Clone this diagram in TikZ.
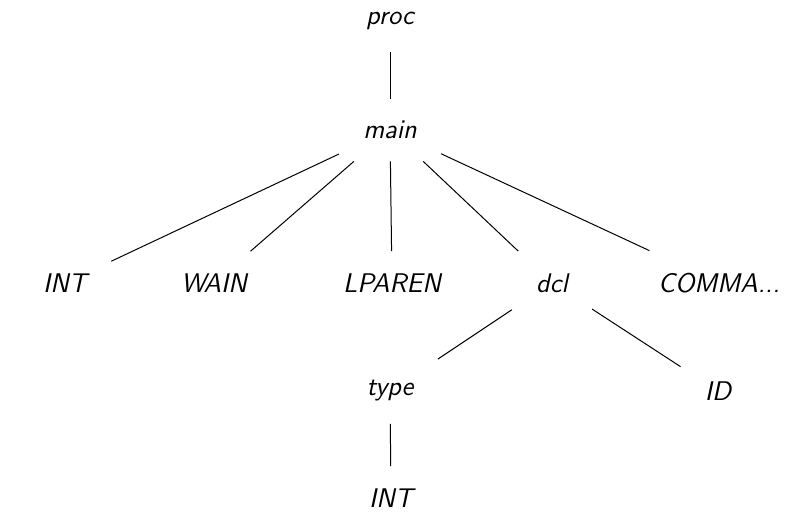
\documentclass[tikz,border=0pt]{standalone}
\usepackage{tikz}
\tikzset{
  treenode/.style={
    font=\fontsize{13.5}{16}\selectfont\sffamily\itshape,
    inner xsep=12pt,
    inner ysep=11pt},
  branch/.style={draw, line width=0.5pt},
}
\begin{document}
\begin{tikzpicture}[x=0.5pt, y=-0.5pt]
     \useasboundingbox (0,0) rectangle (811,515);
     \node[treenode] (Proc)    at (390,21)  {proc};
     \node[treenode] (Main)    at (390,130) {main};
     \node[treenode] (Int)     at (65,283)  {INT};
     \node[treenode] (Wain)    at (214,283) {WAIN};
     \node[treenode] (Lparen)  at (392,283) {LPAREN};
     \node[treenode] (Dcl)     at (552,283) {dcl};
     \node[treenode] (Comma)   at (719,283) {COMMA...};
     \node[treenode] (Type)    at (390,391) {type};
     \node[treenode] (Id)      at (718,391) {ID};
     \node[treenode] (TypeInt) at (391,498) {INT};
     \draw[branch] (Proc) -- (Main);
     \draw[branch] (Main) -- (Int);
     \draw[branch] (Main) -- (Wain);
     \draw[branch] (Main) -- (Lparen);
     \draw[branch] (Main) -- (Dcl);
     \draw[branch] (Main) -- (Comma);
     \draw[branch] (Dcl) -- (Type);
     \draw[branch] (Dcl) -- (Id);
     \draw[branch] (Type) -- (TypeInt);
\end{tikzpicture}
\end{document}
